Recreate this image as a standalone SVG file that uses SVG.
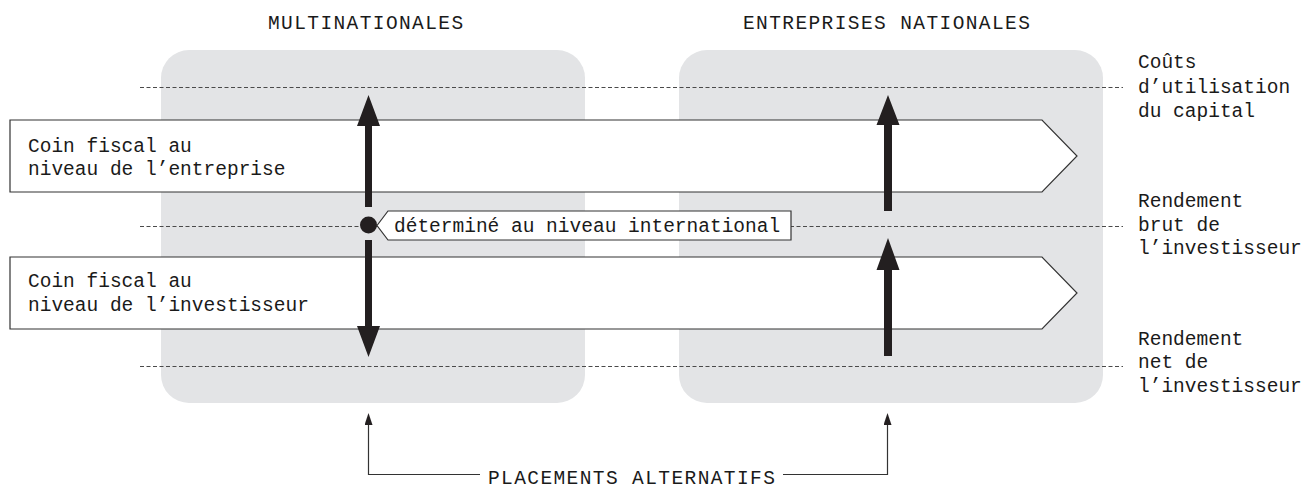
<svg xmlns="http://www.w3.org/2000/svg" width="1310" height="488" viewBox="0 0 1310 488">
<style>
text{font-family:"Liberation Mono","DejaVu Sans Mono",monospace;font-size:19.5px;fill:#1a1a1a}
.hdr{letter-spacing:1.4px}
.panel{fill:#e3e4e6}
.dot{stroke:#4a4a4a;stroke-width:1;stroke-dasharray:4 2.5;fill:none}
.band{fill:#fff;stroke:#333;stroke-width:1.2}
.big{fill:#231f20}
.thin{stroke:#333;stroke-width:1.2;fill:none}
</style>
<defs>
<marker id="sh" viewBox="0 0 12 8" refX="0" refY="4" markerWidth="12" markerHeight="8" markerUnits="userSpaceOnUse" orient="auto">
<path d="M0,0 L12,4 L0,8 Z" fill="#231f20"/>
</marker>
</defs>
<g id="panels">
<rect id="panel-multi" class="panel" x="161" y="50" width="424" height="353" rx="28"/>
<rect id="panel-nat" class="panel" x="679" y="50" width="424" height="353" rx="28"/>
</g>
<g id="levels">
<line class="dot" x1="140" y1="87.5" x2="1123" y2="87.5"/>
<line class="dot" x1="140" y1="226.5" x2="1123" y2="226.5"/>
<line class="dot" x1="140" y1="366.5" x2="1123" y2="366.5"/>
</g>
<g id="band-entreprise">
<path class="band" d="M10,120 H1042 L1077,156 L1042,192 H10 Z"/>
<text x="28" y="152">Coin fiscal au</text>
<text x="28" y="175">niveau de l’entreprise</text>
</g>
<g id="band-investisseur">
<path class="band" d="M10,257 H1042 L1077,293 L1042,329 H10 Z"/>
<text x="28" y="287">Coin fiscal au</text>
<text x="28" y="311">niveau de l’investisseur</text>
</g>
<g id="headers">
<text class="hdr" x="268" y="29">MULTINATIONALES</text>
<text class="hdr" x="743" y="29">ENTREPRISES NATIONALES</text>
</g>
<g id="label-couts">
<text x="1138" y="68">Coûts</text>
<text x="1138" y="93">d’utilisation</text>
<text x="1138" y="117">du capital</text>
</g>
<g id="label-brut">
<text x="1138" y="207">Rendement</text>
<text x="1138" y="231">brut de</text>
<text x="1138" y="254">l’investisseur</text>
</g>
<g id="label-net">
<text x="1138" y="345">Rendement</text>
<text x="1138" y="368">net de</text>
<text x="1138" y="392">l’investisseur</text>
</g>
<g id="arrow-multi">
<path class="big" d="M368.5,95 L380,126 L372,126 L372,207 L365,207 L365,126 L357,126 Z"/>
<path class="big" d="M368.5,357 L380,326 L372,326 L372,240 L365,240 L365,326 L357,326 Z"/>
<circle class="big" cx="368.5" cy="225" r="8.5"/>
</g>
<g id="label-international">
<path d="M377,225.5 L388,211 H791 V240 H388 Z" fill="#fff" stroke="#333" stroke-width="1.2"/>
<text x="394" y="232">déterminé au niveau international</text>
</g>
<g id="arrows-nat">
<path class="big" d="M888,95 L899.5,125 L892,125 L892,211 L884,211 L884,125 L876.5,125 Z"/>
<path class="big" d="M888,238 L899.5,270 L892,270 L892,356 L884,356 L884,270 L876.5,270 Z"/>
</g>
<g id="connectors">
<path class="thin" d="M480,474.5 H368.5 V425" marker-end="url(#sh)"/>
<path class="thin" d="M783,474.5 H887.5 V425" marker-end="url(#sh)"/>
</g>
<g id="label-placements">
<text class="hdr" x="488" y="484">PLACEMENTS ALTERNATIFS</text>
</g>
</svg>
